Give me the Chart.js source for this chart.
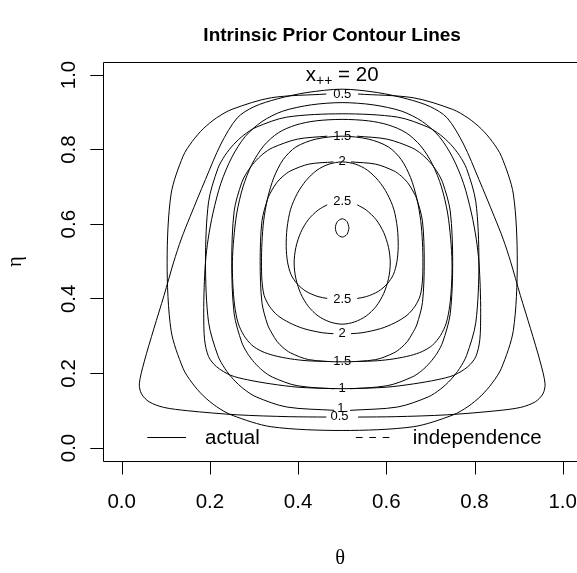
<!DOCTYPE html>
<html><head><meta charset="utf-8">
<script src="https://cdn.jsdelivr.net/npm/chart.js@4.4.0/dist/chart.umd.min.js"></script>
<style>html,body{margin:0;padding:0;background:#fff;overflow:hidden;}canvas{display:block;}</style>
</head><body>
<canvas id="c" width="577" height="573"></canvas>
<script>
// ---- axis ticks ----
const xTicks = [0, 0.2, 0.4, 0.6, 0.8, 1.0];
const yTicks = [0, 0.2, 0.4, 0.6, 0.8, 1.0];

// ---- contour lines, "actual" family: [theta, eta] ----
const actual05 = [[0.464,0.083],[0.38,0.084],[0.262,0.089],[0.149,0.100],[0.095,0.109],[0.062,0.124],[0.045,0.145],[0.040,0.172],[0.051,0.231],[0.073,0.320],[0.096,0.409],[0.118,0.499],[0.135,0.56],[0.155,0.62],[0.19,0.72],[0.225,0.815],[0.262,0.885],[0.30,0.915],[0.353,0.936],[0.42,0.953],[0.5,0.962],[0.58,0.953],[0.647,0.936],[0.70,0.915],[0.738,0.885],[0.775,0.815],[0.81,0.72],[0.845,0.62],[0.865,0.56],[0.882,0.499],[0.904,0.409],[0.927,0.320],[0.949,0.231],[0.960,0.172],[0.955,0.145],[0.938,0.124],[0.905,0.109],[0.851,0.100],[0.738,0.089],[0.62,0.084],[0.536,0.083]];
const actual10 = [[0.482,0.159],[0.40,0.163],[0.338,0.172],[0.285,0.183],[0.247,0.195],[0.215,0.218],[0.197,0.245],[0.188,0.29],[0.186,0.36],[0.187,0.43],[0.19,0.499],[0.196,0.56],[0.207,0.63],[0.225,0.71],[0.25,0.78],[0.28,0.835],[0.318,0.875],[0.365,0.903],[0.43,0.920],[0.5,0.926],[0.57,0.920],[0.635,0.903],[0.682,0.875],[0.72,0.835],[0.75,0.78],[0.775,0.71],[0.793,0.63],[0.804,0.56],[0.81,0.499],[0.813,0.43],[0.814,0.36],[0.812,0.29],[0.803,0.245],[0.785,0.218],[0.753,0.195],[0.715,0.183],[0.662,0.172],[0.60,0.163],[0.518,0.159]];
const actual15 = [[0.466,0.232],[0.42,0.234],[0.383,0.239],[0.345,0.248],[0.318,0.259],[0.295,0.276],[0.277,0.302],[0.264,0.335],[0.256,0.383],[0.252,0.44],[0.251,0.499],[0.254,0.56],[0.261,0.63],[0.275,0.70],[0.295,0.76],[0.322,0.81],[0.355,0.845],[0.395,0.866],[0.44,0.877],[0.5,0.881],[0.56,0.877],[0.605,0.866],[0.645,0.845],[0.678,0.81],[0.705,0.76],[0.725,0.70],[0.739,0.63],[0.746,0.56],[0.749,0.499],[0.748,0.44],[0.744,0.383],[0.736,0.335],[0.723,0.302],[0.705,0.276],[0.682,0.259],[0.655,0.248],[0.617,0.239],[0.58,0.234],[0.534,0.232]];
const actual20 = [[0.48,0.3065],[0.455,0.309],[0.413,0.320],[0.38,0.336],[0.353,0.356],[0.335,0.380],[0.323,0.409],[0.318,0.45],[0.317,0.499],[0.318,0.55],[0.322,0.61],[0.331,0.67],[0.345,0.725],[0.366,0.773],[0.395,0.807],[0.44,0.828],[0.5,0.836],[0.56,0.828],[0.605,0.807],[0.634,0.773],[0.655,0.725],[0.669,0.67],[0.678,0.61],[0.682,0.55],[0.683,0.499],[0.682,0.45],[0.677,0.409],[0.665,0.380],[0.647,0.356],[0.62,0.336],[0.587,0.320],[0.545,0.309],[0.52,0.3065]];
const actual25 = [[0.466,0.401],[0.445,0.406],[0.418,0.420],[0.398,0.440],[0.384,0.465],[0.376,0.499],[0.373,0.54],[0.375,0.59],[0.383,0.64],[0.398,0.682],[0.418,0.717],[0.443,0.745],[0.47,0.761],[0.5,0.767],[0.53,0.761],[0.557,0.745],[0.582,0.717],[0.602,0.682],[0.617,0.64],[0.625,0.59],[0.627,0.54],[0.624,0.499],[0.616,0.465],[0.602,0.440],[0.582,0.420],[0.555,0.406],[0.534,0.401]];
const actual30 = [[0.5155,0.59],[0.511,0.607],[0.5,0.6145],[0.489,0.607],[0.4845,0.59],[0.489,0.573],[0.5,0.5655],[0.511,0.573],[0.5155,0.59]];

// ---- contour lines, "independence" family: [theta, eta] ----
const indep05 = [[0.536,0.949],[0.661,0.939],[0.750,0.908],[0.785,0.885],[0.815,0.856],[0.840,0.822],[0.861,0.782],[0.888,0.681],[0.897,0.498],[0.888,0.315],[0.861,0.214],[0.840,0.174],[0.815,0.140],[0.785,0.111],[0.750,0.088],[0.661,0.057],[0.5,0.047],[0.339,0.057],[0.250,0.088],[0.215,0.111],[0.185,0.140],[0.160,0.174],[0.139,0.214],[0.112,0.315],[0.103,0.498],[0.112,0.681],[0.139,0.782],[0.160,0.822],[0.185,0.856],[0.215,0.885],[0.250,0.908],[0.339,0.939],[0.464,0.949]];
const indep10 = [[0.482,0.101],[0.374,0.110],[0.305,0.137],[0.277,0.158],[0.254,0.183],[0.234,0.213],[0.218,0.248],[0.197,0.337],[0.190,0.4985],[0.197,0.660],[0.218,0.749],[0.234,0.784],[0.254,0.814],[0.277,0.839],[0.305,0.860],[0.374,0.887],[0.5,0.896],[0.626,0.887],[0.695,0.860],[0.723,0.839],[0.746,0.814],[0.766,0.784],[0.782,0.749],[0.803,0.660],[0.810,0.4985],[0.803,0.337],[0.782,0.248],[0.766,0.213],[0.746,0.183],[0.723,0.158],[0.695,0.137],[0.626,0.110],[0.518,0.101]];
const indep15 = [[0.534,0.836],[0.602,0.828],[0.658,0.805],[0.680,0.788],[0.699,0.766],[0.715,0.741],[0.728,0.711],[0.745,0.635],[0.7505,0.4975],[0.745,0.360],[0.728,0.284],[0.715,0.254],[0.699,0.229],[0.680,0.207],[0.658,0.190],[0.602,0.167],[0.5,0.159],[0.398,0.167],[0.342,0.190],[0.320,0.207],[0.301,0.229],[0.285,0.254],[0.272,0.284],[0.255,0.360],[0.2495,0.4975],[0.255,0.635],[0.272,0.711],[0.285,0.741],[0.301,0.766],[0.320,0.788],[0.342,0.805],[0.398,0.828],[0.466,0.836]];
const indep20 = [[0.52,0.767],[0.576,0.761],[0.617,0.743],[0.634,0.729],[0.648,0.712],[0.659,0.692],[0.669,0.668],[0.682,0.608],[0.686,0.499],[0.682,0.390],[0.669,0.330],[0.659,0.307],[0.648,0.286],[0.634,0.269],[0.617,0.255],[0.576,0.237],[0.5,0.231],[0.424,0.237],[0.383,0.255],[0.366,0.269],[0.352,0.286],[0.341,0.307],[0.331,0.330],[0.318,0.390],[0.314,0.499],[0.318,0.608],[0.331,0.668],[0.341,0.692],[0.352,0.712],[0.366,0.729],[0.383,0.743],[0.424,0.761],[0.48,0.767]];
const indep25 = [[0.534,0.652],[0.5545,0.638],[0.577,0.612],[0.594,0.578],[0.605,0.538],[0.609,0.496],[0.605,0.454],[0.594,0.414],[0.577,0.380],[0.5545,0.354],[0.528,0.338],[0.5,0.332],[0.472,0.338],[0.4455,0.354],[0.423,0.380],[0.406,0.414],[0.395,0.454],[0.391,0.496],[0.395,0.538],[0.406,0.578],[0.423,0.612],[0.4455,0.638],[0.466,0.652]];

// ---- contour labels ----
const labelText  = ['0.5','1.5','2','2.5','2.5','2','1.5','1','1','0.5'];
const labelTheta = [0.5, 0.5, 0.5, 0.5, 0.5, 0.5, 0.5, 0.5, 0.497, 0.494];
const labelEta   = [0.949, 0.836, 0.767, 0.66, 0.399, 0.306, 0.231, 0.159, 0.106, 0.084];

// ---- titles, annotation & legend ----
const mainTitle = 'Intrinsic Prior Contour Lines';
const headText = ['x', '++', ' = 20'];
const headPos = [0.5, 1.0];
const legendText = ['actual', 'independence'];
const legendLineFrom = [0.058, 0.531];
const legendLineTo = [0.146, 0.607];
const legendTextAt = [0.189, 0.660];
const legendEta = 0.030;

const SANS = '"Liberation Sans", Arial, Helvetica, sans-serif';
const SERIF = '"Liberation Serif", "DejaVu Serif", serif';

const contours = [actual05, actual10, actual15, actual20, actual25, actual30, indep05, indep10, indep15, indep20, indep25];

const overlay = {
  id: 'overlay',
  afterDraw(chart) {
    const {ctx, chartArea: a} = chart;
    const xs = chart.scales.x, ys = chart.scales.y;
    ctx.save();
    // keep the strip right of the last tick clean
    ctx.fillStyle = '#fff';
    ctx.fillRect(Math.round(xs.getPixelForValue(xTicks[xTicks.length - 1])) + 3, a.bottom + 1, chart.width, 20);

    ctx.strokeStyle = '#000';
    ctx.lineWidth = 1;
    const L = Math.round(a.left) + 0.5, T = Math.round(a.top) + 0.5, B = Math.round(a.bottom) - 0.5;
    ctx.beginPath();
    ctx.moveTo(chart.width, T); ctx.lineTo(L, T); ctx.lineTo(L, B); ctx.lineTo(chart.width, B);
    ctx.stroke();

    // x-axis tick marks (outward)
    ctx.beginPath();
    xTicks.forEach(v => {
      const px = Math.round(xs.getPixelForValue(v)) + 0.5;
      ctx.moveTo(px, B); ctx.lineTo(px, B + 13);
    });
    ctx.stroke();

    // main title
    ctx.fillStyle = '#000';
    ctx.font = 'bold 19px ' + SANS;
    ctx.textAlign = 'center';
    ctx.textBaseline = 'middle';
    ctx.fillText(mainTitle, (a.left + a.right) / 2 - 8, a.top - 26);

    // contour labels
    ctx.font = '13px ' + SANS;
    labelText.forEach((t, i) => ctx.fillText(t, xs.getPixelForValue(labelTheta[i]), ys.getPixelForValue(labelEta[i])));

    // x_{++} = 20
    const hx = xs.getPixelForValue(headPos[0]), hy = ys.getPixelForValue(headPos[1]) + 6;
    ctx.textAlign = 'left';
    ctx.textBaseline = 'alphabetic';
    ctx.font = '20.5px ' + SANS; const w1 = ctx.measureText(headText[0]).width;
    ctx.font = '14px ' + SANS; const w2 = ctx.measureText(headText[1]).width;
    ctx.font = '20.5px ' + SANS; const w3 = ctx.measureText(headText[2]).width;
    let sx = hx - (w1 + w2 + w3) / 2;
    ctx.fillText(headText[0], sx, hy);
    ctx.font = '14px ' + SANS; ctx.fillText(headText[1], sx + w1, hy + 4);
    ctx.font = '20.5px ' + SANS; ctx.fillText(headText[2], sx + w1 + w2, hy);

    // legend
    const ly = Math.round(ys.getPixelForValue(legendEta)) + 0.5;
    ctx.beginPath();
    ctx.moveTo(xs.getPixelForValue(legendLineFrom[0]), ly); ctx.lineTo(xs.getPixelForValue(legendLineTo[0]), ly);
    ctx.stroke();
    ctx.setLineDash([6.7, 6.7]);
    ctx.beginPath();
    ctx.moveTo(xs.getPixelForValue(legendLineFrom[1]), ly); ctx.lineTo(xs.getPixelForValue(legendLineTo[1]), ly);
    ctx.stroke();
    ctx.setLineDash([]);
    ctx.font = '20.5px ' + SANS;
    ctx.textBaseline = 'middle';
    legendText.forEach((t, i) => ctx.fillText(t, xs.getPixelForValue(legendTextAt[i]), ly + 1));
    ctx.restore();
  }
};

new Chart(document.getElementById('c'), {
  type: 'line',
  data: {
    datasets: contours.map(c => ({
      data: c.map(p => ({x: p[0], y: p[1]})),
      borderColor: '#000', borderWidth: 1, pointRadius: 0, tension: 0.3, fill: false
    }))
  },
  options: {
    responsive: false, animation: false, devicePixelRatio: 1,
    layout: {padding: {top: 61.5, left: 0, right: 0, bottom: 0}, autoPadding: false},
    plugins: {
      legend: {display: false}, tooltip: {enabled: false}, title: {display: false}
    },
    scales: {
      x: {type: 'linear', min: -0.0417, max: 1.0324,
        afterBuildTicks: s => { s.ticks = xTicks.map(v => ({value: v})); },
        afterFit: s => { s.height = 111; s.paddingLeft = 0; s.paddingRight = 0; },
        grid: {display: false, drawOnChartArea: false, drawTicks: false, tickLength: 13},
        border: {display: false},
        ticks: {callback: v => v.toFixed(1), color: '#000', font: {family: SANS, size: 20.5}, padding: 28, maxRotation: 0, autoSkip: false},
        title: {display: true, text: 'θ', color: '#000', font: {family: SERIF, size: 20.5, lineHeight: 1.2}, padding: {top: 0, bottom: 2.5}}
      },
      y: {type: 'linear', min: -0.0375, max: 1.0362,
        afterBuildTicks: s => { s.ticks = yTicks.map(v => ({value: v})); },
        afterFit: s => { s.width = 103.3; s.paddingTop = 0; s.paddingBottom = 0; },
        grid: {drawOnChartArea: false, drawTicks: true, tickLength: 13, tickColor: '#000', tickWidth: 1},
        border: {display: false},
        ticks: {callback: v => v.toFixed(1), color: '#000', font: {family: SANS, size: 20.5}, padding: 7, minRotation: 90, maxRotation: 90, crossAlign: 'center', autoSkip: false},
        title: {display: true, text: 'η', color: '#000', font: {family: SERIF, size: 20.5, lineHeight: 1.2}, padding: {top: 3.4, bottom: 0}}
      }
    }
  },
  plugins: [overlay]
});
</script>
</body></html>
